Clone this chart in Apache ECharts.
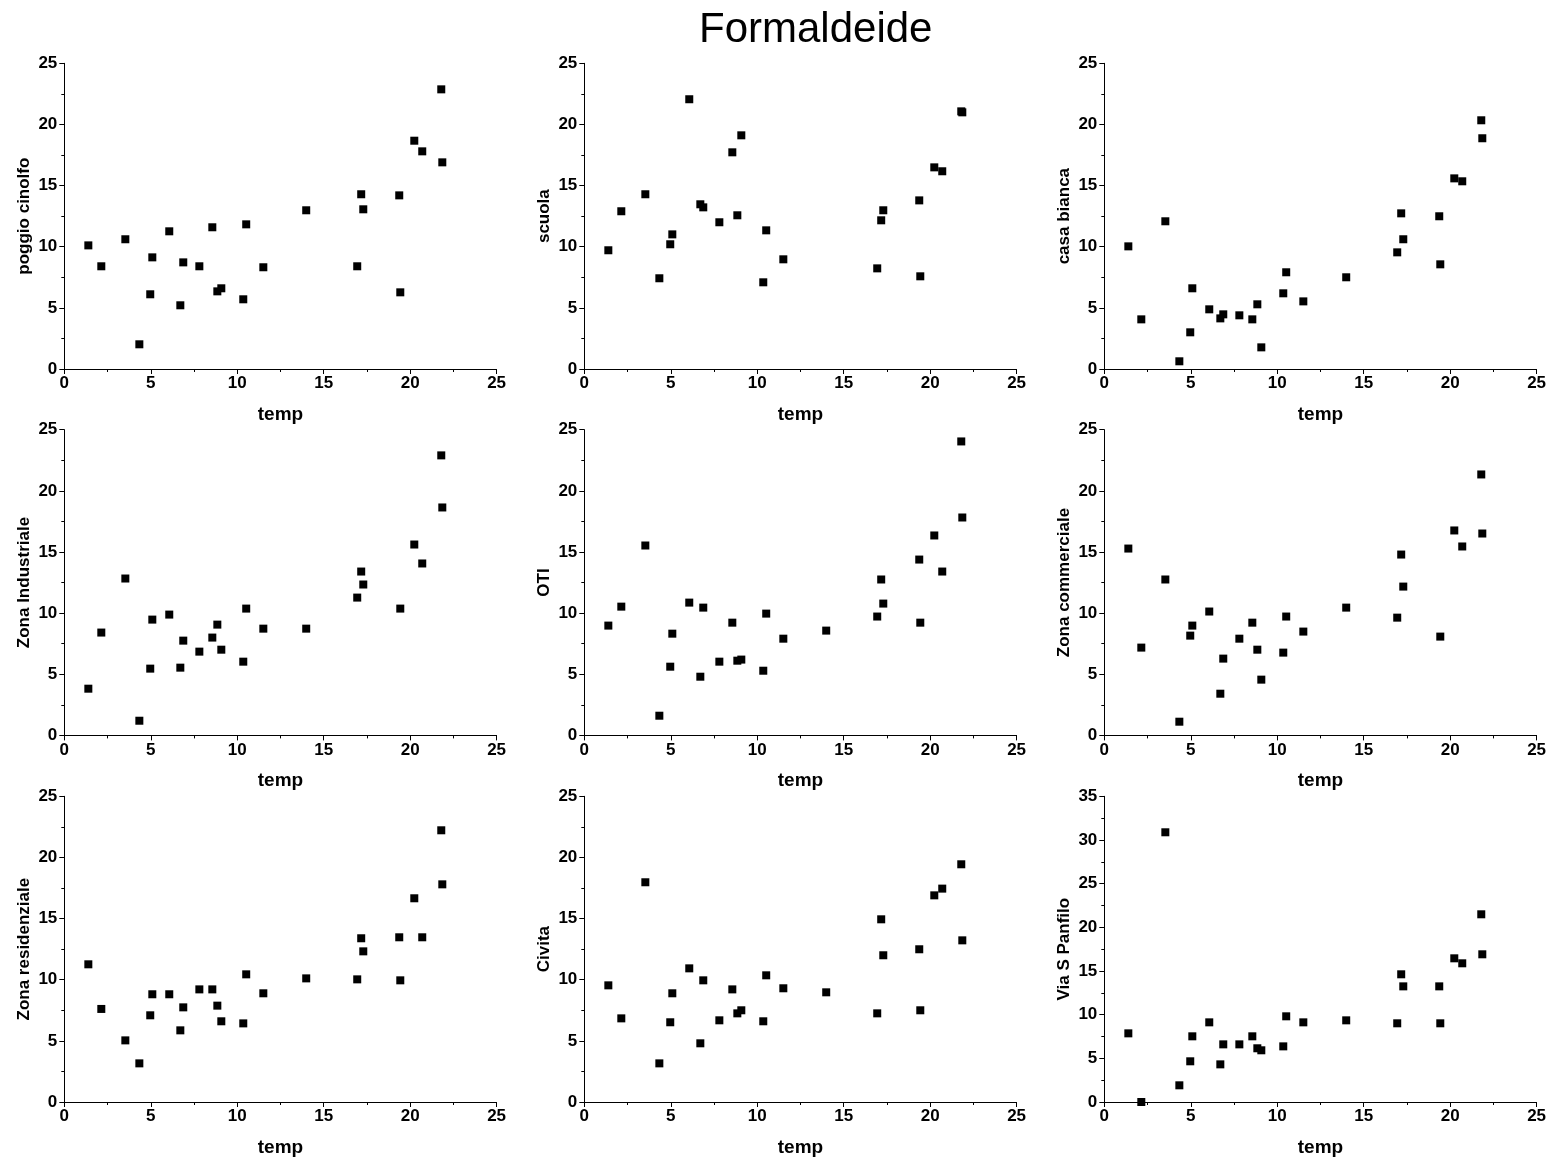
<!DOCTYPE html>
<html>
<head>
<meta charset="utf-8">
<title>Formaldeide</title>
<script src="https://cdn.jsdelivr.net/npm/echarts@6/dist/echarts.min.js"></script>
<style>
  html, body { margin: 0; padding: 0; background: #ffffff; }
  #chart { width: 1553px; height: 1163px; }
</style>
</head>
<body>
<div id="chart"></div>
<script>
// Air temperature for each sampling day (shared x values)
const temp = [1.39, 2.14, 3.53, 4.34, 4.97, 5.09, 6.07, 6.71, 6.88, 7.81, 8.56, 8.85, 9.08,
              10.35, 10.52, 11.51, 13.99, 16.94, 17.17, 17.29, 19.37, 19.43, 20.24, 20.70, 21.80, 21.86];

// Formaldehyde concentration at each site (null = no sample)
const poggioCinolfo = [10.11, 8.40, 10.61, 2.02, 6.11, 9.13, 11.26, 5.21, 8.72, 8.40, 11.59, 6.35, 6.60,
                       5.70, 11.83, 8.32, 12.98, 8.40, 14.29, 13.06, 14.20, 6.27, 18.67, 17.80, 22.87, 16.90];
const scuola = [9.71, 12.90, 14.29, 7.42, 10.20, 11.01, 22.06, 13.47, 13.22, 12.00, 17.72, 12.57, 19.11,
                7.09, 11.34, 8.97, null, 8.23, 12.16, 12.98, 13.79, 7.58, 16.49, 16.17, 21.07, 20.99];
const casaBianca = [10.03, 4.06, 12.08, 0.63, 3.00, 6.60, 4.88, 4.14, 4.47, 4.39, 4.06, 5.29, 1.77,
                    6.19, 7.91, 5.53, 7.50, 9.54, 12.73, 10.61, 12.49, 8.56, 15.59, 15.35, 20.34, 18.87];
const zonaIndustriale = [3.82, 8.41, 12.83, 1.20, 5.46, 9.47, 9.88, 5.54, 7.75, 6.85, 8.00, 9.06, 7.01,
                         6.03, 10.37, 8.73, 8.73, 11.27, 13.40, 12.34, null, 10.37, 15.61, 14.06, 22.90, 18.64];
const oti = [8.98, 10.53, 15.53, 1.61, 5.62, 8.32, 10.86, 4.80, 10.45, 6.03, 9.22, 6.11, 6.20,
             5.29, 9.96, 7.91, 8.57, 9.72, 12.75, 10.78, 14.38, 9.22, 16.35, 13.40, 24.04, 17.82];
const zonaCommerciale = [15.28, 7.18, 12.75, 1.12, 8.16, 8.98, 10.13, 3.41, 6.28, 7.91, 9.22, 7.01, 4.56,
                         6.77, 9.72, 8.49, 10.45, 9.63, 14.79, 12.17, null, 8.08, 16.76, 15.45, 21.34, 16.51];
const zonaResidenziale = [11.26, 7.61, 5.04, 3.16, 7.09, 8.81, 8.81, 5.86, 7.74, 9.21, 9.21, 7.88, 6.60,
                          6.43, 10.44, 8.89, 10.11, 10.03, 13.39, 12.32, 13.47, 9.95, 16.66, 13.47, 22.22, 17.80];
const civita = [9.54, 6.84, 17.97, 3.16, 6.52, 8.89, 10.93, 4.80, 9.95, 6.68, 9.21, 7.25, 7.50,
                6.60, 10.36, 9.30, 8.97, 7.25, 14.94, 12.00, 12.49, 7.50, 16.90, 17.45, 19.44, 13.22];
const viaSPanfilo = [7.86, 0.00, 30.88, 1.91, 4.66, 7.52, 9.12, 4.31, 6.60, 6.60, 7.52, 6.15, 5.92,
                     6.37, 9.81, 9.12, 9.35, 9.01, 14.62, 13.24, 13.24, 9.01, 16.45, 15.88, 21.49, 16.91];

const siteNames = ['poggio cinolfo', 'scuola', 'casa bianca',
                   'Zona Industriale', 'OTI', 'Zona commerciale',
                   'Zona residenziale', 'Civita', 'Via S Panfilo'];
const siteValues = [poggioCinolfo, scuola, casaBianca,
                    zonaIndustriale, oti, zonaCommerciale,
                    zonaResidenziale, civita, viaSPanfilo];
const yMax = [25, 25, 25, 25, 25, 25, 25, 25, 35];

const xMax = 25;
const tickStep = 5;

// panel geometry (3 x 3)
const colLeft = [64.3, 584.3, 1104.3];
const rowTop = [63.3, 429.7, 796.3];
const plotW = 432.3;
const plotH = 305.7;

const FONT = 'Liberation Sans, Arial, Helvetica, sans-serif';

const grids = [], xAxes = [], yAxes = [], series = [];

function axisCommon() {
  return {
    axisLine: { show: true, onZero: false, lineStyle: { color: '#000', width: 1 } },
    axisTick: { show: true, inside: false, length: 5, lineStyle: { color: '#000', width: 1 } },
    minorTick: { show: true, splitNumber: 2, length: 3, lineStyle: { color: '#000', width: 1 } },
    splitLine: { show: false },
    minorSplitLine: { show: false },
    axisLabel: { color: '#000', fontFamily: FONT, fontWeight: 'bold', fontSize: 17 },
    nameTextStyle: { color: '#000', fontFamily: FONT, fontWeight: 'bold' }
  };
}

siteNames.forEach((name, i) => {
  const r = Math.floor(i / 3), c = i % 3;
  grids.push({ left: colLeft[c], top: rowTop[r], width: plotW, height: plotH, containLabel: false });

  const xa = axisCommon();
  Object.assign(xa, {
    type: 'value', gridIndex: i, min: 0, max: xMax, interval: tickStep,
    name: 'temp', nameLocation: 'middle', nameGap: 36,
  });
  xa.axisLabel.margin = 6;
  xa.nameTextStyle.fontSize = 19;
  xAxes.push(xa);

  const ya = axisCommon();
  Object.assign(ya, {
    type: 'value', gridIndex: i, min: 0, max: yMax[i], interval: tickStep,
    name: name, nameLocation: 'middle', nameGap: 31,
  });
  ya.axisLabel.margin = 7;
  ya.nameTextStyle.fontSize = 17;
  yAxes.push(ya);

  const pts = [];
  temp.forEach((t, k) => {
    const v = siteValues[i][k];
    if (v !== null) pts.push([t, v]);
  });
  series.push({
    type: 'scatter', name: name, xAxisIndex: i, yAxisIndex: i,
    data: pts, symbol: 'rect', symbolSize: 8,
    itemStyle: { color: '#000', opacity: 1 },
    clip: false, silent: true
  });
});

const chart = echarts.init(document.getElementById('chart'), null, { renderer: 'canvas' });
chart.setOption({
  backgroundColor: '#ffffff',
  animation: false,
  title: {
    text: 'Formaldeide',
    left: 694, top: 4,
    textStyle: { color: '#000', fontFamily: FONT, fontWeight: 'normal', fontSize: 42 }
  },
  grid: grids,
  xAxis: xAxes,
  yAxis: yAxes,
  series: series
});
</script>
</body>
</html>
